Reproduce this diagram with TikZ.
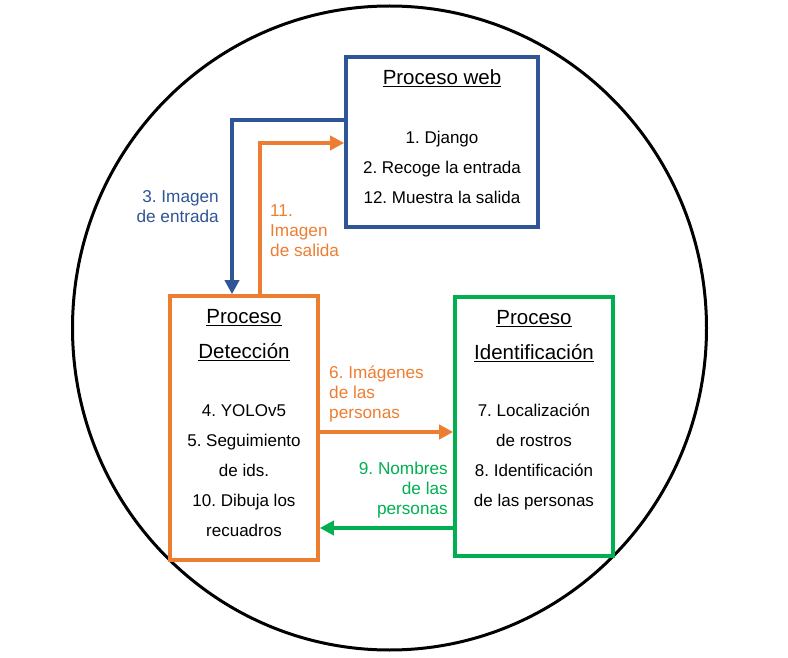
\documentclass[tikz,border=0pt]{standalone}
\usepackage{fontspec}
\setmainfont{Liberation Sans}
\usetikzlibrary{arrows.meta}
\frenchspacing

\definecolor{webblue}{HTML}{2F5597}
\definecolor{detorange}{HTML}{ED7D31}
\definecolor{idgreen}{HTML}{00B050}

\begin{document}
\begin{tikzpicture}[x=1pt,y=-1pt,
	procbox/.style={draw, line width=3.6pt, rectangle, inner sep=0pt},
	titletext/.style={font=\fontsize{20.5}{35}\selectfont, align=center},
	bodytext/.style={font=\fontsize{17}{30}\selectfont, align=center},
	flowtext/.style={font=\fontsize{17.2}{20}\selectfont, inner sep=0pt},
	flow/.style={line width=3.6pt, -{Triangle[length=14pt,width=14pt]}}]

	\useasboundingbox (0,0) rectangle (788,658);

	% outer circle
	\draw[line width=3pt] (389.5,328) ellipse [x radius=317pt, y radius=322pt];

	% process boxes
	\node[procbox, draw=webblue, minimum width=192pt, minimum height=170pt] (web) at (442,142) {};
	\node[procbox, draw=detorange, minimum width=148pt, minimum height=264pt] (det) at (244,428) {};
	\node[procbox, draw=idgreen, minimum width=158pt, minimum height=259pt] (ident) at (534,426.5) {};

	% box texts
	\node[titletext] (webtitle) at (442,78) {\underline{Proceso web}};
	\node[bodytext] (webbody) at (442,167) {1. Django\\2. Recoge la entrada\\12. Muestra la salida};

	\node[titletext] (dettitle) at (244,335) {\underline{Proceso}\\\underline{Detección}};
	\node[bodytext] (detbody) at (244,471) {4. YOLOv5\\5. Seguimiento\\de ids.\\10. Dibuja los\\recuadros};

	\node[titletext] (idtitle) at (534,336) {\underline{Proceso}\\\underline{Identificación}};
	\node[bodytext] (idbody) at (534,457.5) {7. Localización\\de rostros\\8. Identificación\\de las personas};

	% bend points
	\coordinate (inbend) at (232,120);
	\coordinate (outbend) at (260,143);
	\coordinate (imgrow) at (0,432);
	\coordinate (namerow) at (0,528);

	% arrows
	\draw[flow, webblue] (web.west |- inbend) -- (inbend) -- (inbend |- det.north);
	\draw[flow, detorange] (outbend |- det.north) -- (outbend) -- (outbend -| web.west);
	\draw[flow, detorange] (det.east |- imgrow) -- (ident.west |- imgrow);
	\draw[flow, idgreen] (ident.west |- namerow) -- (det.east |- namerow);

	% arrow labels
	\node[flowtext, webblue, anchor=east, align=right] (inlabel) at (219,206.5) {3. Imagen\\de entrada};
	\node[flowtext, detorange, anchor=west, align=left] (outlabel) at (270,231) {11.\\Imagen\\de salida};
	\node[flowtext, detorange, anchor=west, align=left] (imglabel) at (329,394) {6. Imágenes\\de las\\personas};
	\node[flowtext, idgreen, anchor=east, align=right] (namelabel) at (448,490) {9. Nombres\\de las\\personas};

\end{tikzpicture}
\end{document}
